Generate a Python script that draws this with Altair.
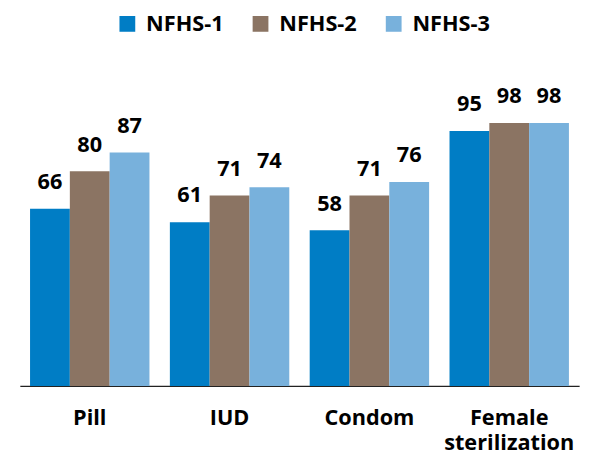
import altair as alt
import pandas as pd

categories = ["Pill", "IUD", "Condom", "Female sterilization"]
surveys = ["NFHS-1", "NFHS-2", "NFHS-3"]
nfhs1 = [66, 61, 58, 95]
nfhs2 = [80, 71, 71, 98]
nfhs3 = [87, 74, 76, 98]
colors = ["#007DC5", "#8B7463", "#78B1DC"]

rows = []
for i, c in enumerate(categories):
    for s, vals in zip(surveys, [nfhs1, nfhs2, nfhs3]):
        rows.append({"method": c, "survey": s, "value": vals[i]})
df = pd.DataFrame(rows)

FONT = "Open Sans"

base = alt.Chart(df).encode(
    x=alt.X("method:N", sort=categories,
            scale=alt.Scale(paddingInner=0.146, paddingOuter=0.073),
            axis=alt.Axis(title=None, ticks=False, labelAngle=0,
                          labelExpr="split(datum.label, ' ')",
                          labelFont=FONT, labelFontSize=22, labelFontWeight="bold",
                          labelColor="#000", labelPadding=22, labelLineHeight=26,
                          domainColor="#222", domainWidth=1.5)),
    xOffset=alt.XOffset("survey:N", sort=surveys, scale=alt.Scale(paddingInner=0, paddingOuter=0)),
    y=alt.Y("value:Q", scale=alt.Scale(domain=[0, 100], nice=False), axis=None),
)

bars = base.mark_bar().encode(
    color=alt.Color("survey:N", sort=surveys,
                    scale=alt.Scale(domain=surveys, range=colors),
                    legend=alt.Legend(title=None, orient="none", direction="horizontal",
                                      legendX=98, legendY=-106,
                                      symbolType="square", symbolSize=256,
                                      symbolStrokeWidth=0, symbolOpacity=1,
                                      labelFont=FONT, labelFontSize=22, labelFontWeight="bold",
                                      labelColor="#000", labelOffset=8, columnPadding=26))
)

labels = base.mark_text(font=FONT, fontSize=22, fontWeight="bold", color="#000",
                        baseline="alphabetic", dy=-20).encode(text="value:Q")

chart = (bars + labels).properties(
    width=567, height=272,
    padding={"left": 12, "top": 2, "right": 10, "bottom": 0},
).configure_view(stroke=None)

chart.save("out.html", embed_options={"renderer": "svg", "actions": False})
